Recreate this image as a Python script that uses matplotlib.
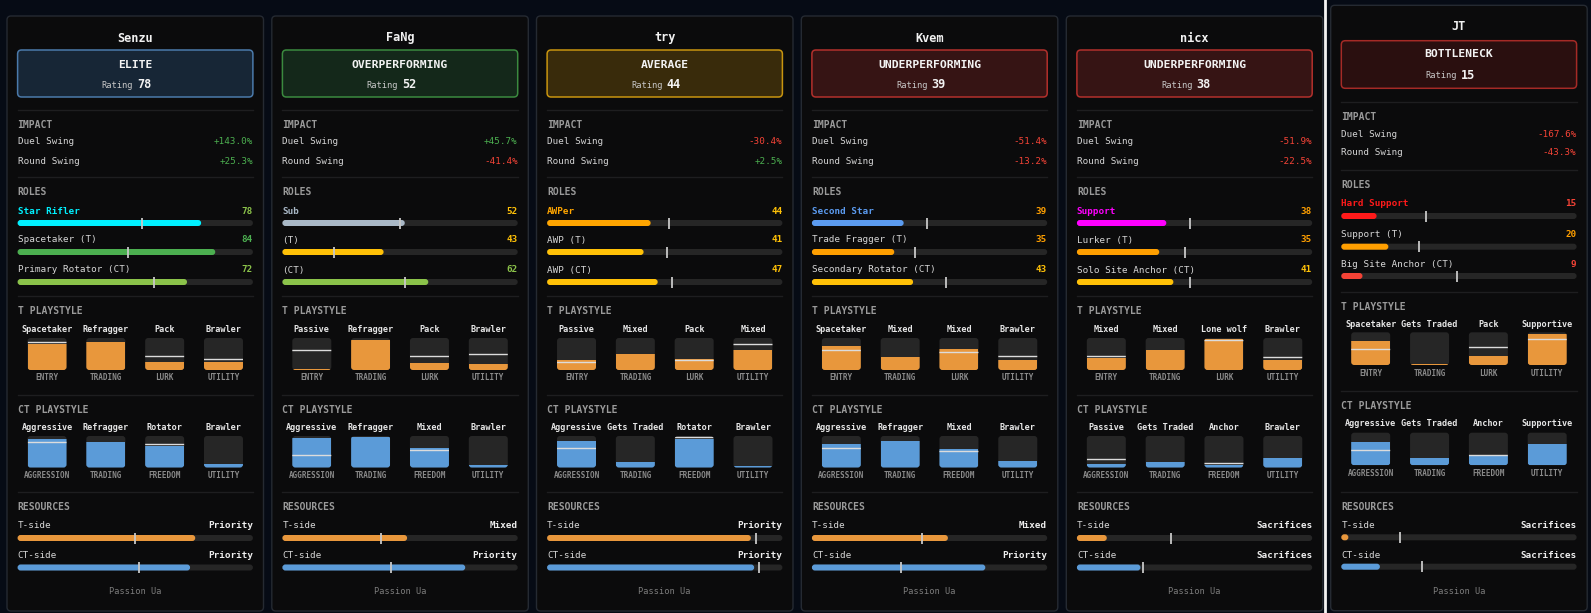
import matplotlib
matplotlib.use("Agg")
import matplotlib.pyplot as plt
from matplotlib.patches import FancyBboxPatch, Rectangle

plt.rcParams['font.family'] = ['DejaVu Sans Mono', 'DejaVu Sans']

# ---- data -------------------------------------------------------------
players = ["Senzu", "FaNg", "try", "Kvem", "nicx", "JT"]
tiers = ["ELITE", "OVERPERFORMING", "AVERAGE", "UNDERPERFORMING", "UNDERPERFORMING", "BOTTLENECK"]
ratings = [78, 52, 44, 39, 38, 15]
duel_swing = [143.0, 45.7, -30.4, -51.4, -51.9, -167.6]
round_swing = [25.3, -41.4, 2.5, -13.2, -22.5, -43.3]

role_names = [["Star Rifler", "Spacetaker (T)", "Primary Rotator (CT)"],
              ["Sub", "(T)", "(CT)"],
              ["AWPer", "AWP (T)", "AWP (CT)"],
              ["Second Star", "Trade Fragger (T)", "Secondary Rotator (CT)"],
              ["Support", "Lurker (T)", "Solo Site Anchor (CT)"],
              ["Hard Support", "Support (T)", "Big Site Anchor (CT)"]]
role_values = [[78, 84, 72], [52, 43, 62], [44, 41, 47], [39, 35, 43], [38, 35, 41], [15, 20, 9]]
role_marks = [[53, 47, 58], [50, 22, 52], [52, 51, 53], [49, 44, 57], [48, 46, 48], [36, 33, 49]]
main_role_colors = ["#00f0ff", "#a9b8c6", "#ffa500", "#5b9bf0", "#ff00ff", "#ff1a1a"]

t_sub = ["ENTRY", "TRADING", "LURK", "UTILITY"]
t_names = [["Spacetaker", "Refragger", "Pack", "Brawler"],
           ["Passive", "Refragger", "Pack", "Brawler"],
           ["Passive", "Mixed", "Pack", "Mixed"],
           ["Spacetaker", "Mixed", "Mixed", "Brawler"],
           ["Mixed", "Mixed", "Lone wolf", "Brawler"],
           ["Spacetaker", "Gets Traded", "Pack", "Supportive"]]
t_fill = [[82, 89, 25, 25], [3, 95, 23, 20], [31, 50, 34, 63],
          [75, 40, 65, 31], [37, 62, 98, 32], [73, 4, 26, 95]]
t_mark = [[86, None, 44, 33], [63, None, 44, 51], [26, None, 32, 82],
          [63, None, 55, 44], [45, None, 95, 41], [49, None, 56, 81]]

ct_sub = ["AGGRESSION", "TRADING", "FREEDOM", "UTILITY"]
ct_names = [["Aggressive", "Refragger", "Rotator", "Brawler"],
            ["Aggressive", "Refragger", "Mixed", "Brawler"],
            ["Aggressive", "Gets Traded", "Rotator", "Brawler"],
            ["Aggressive", "Refragger", "Mixed", "Brawler"],
            ["Passive", "Gets Traded", "Anchor", "Brawler"],
            ["Aggressive", "Gets Traded", "Anchor", "Supportive"]]
ct_fill = [[90, 81, 69, 10], [95, 98, 63, 7], [84, 16, 89, 4],
           [74, 84, 58, 20], [10, 17, 7, 29], [72, 21, 30, 65]]
ct_mark = [[80, None, 74, None], [39, None, 56, None], [63, None, 96, None],
           [63, None, 53, None], [26, None, 15, None], [47, None, 33, None]]

t_res_label = ["Priority", "Mixed", "Priority", "Mixed", "Sacrifices", "Sacrifices"]
t_res_fill = [75.5, 53, 86.6, 57.8, 12.7, 3]
t_res_mark = [50, 42, 88.7, 47, 40, 25]
ct_res_label = ["Priority", "Priority", "Priority", "Priority", "Sacrifices", "Sacrifices"]
ct_res_fill = [73.3, 77.7, 88, 73.7, 27, 16.4]
ct_res_mark = [51.6, 46.3, 90, 37.8, 28, 34.5]

footer = "Passion Ua"

# ---- styles -----------------------------------------------------------
BG = "#060b15"
PANEL = "#0b0b0c"
PANEL_EDGE = "#252a32"
SEP = "#1e1e20"
TRACK = "#262626"
ORANGE = "#e8973c"
BLUE = "#5b9bd8"
TXT = "#e6e6e6"
GRAY = "#9a9a9a"
tier_style = {
    "ELITE": ("#172636", "#4b7aab"),
    "OVERPERFORMING": ("#14281a", "#3b8a3f"),
    "AVERAGE": ("#392b0b", "#c9950f"),
    "UNDERPERFORMING": ("#361414", "#b3302c"),
    "BOTTLENECK": ("#2a0f0f", "#a52a26"),
}


def value_color(v):
    if v < 20:
        return "#f44336"
    if v < 40:
        return "#ff9f00"
    if v < 60:
        return "#ffc107"
    if v < 80:
        return "#8bc34a"
    return "#4caf50"


# vertical layout for the five left cards and for the JT card
lay_main = dict(top=16, bot=611, title=38, b0=50, b1=97, blab=65, brat=85, s1=110,
                imp=125, duel=142, rnd=161, s2=177, roles=192, rl=[211, 240, 270],
                rb=[223, 252, 282], s3=296, tps=311.5, th=330, tb0=338, tb1=370,
                tsub=378, s4=395, cps=410, ch=428, cb0=436, cb1=467.5, csub=475.5,
                s5=492, res=507.5, tl=526, tbar=538, cl=556, cbar=567.5, foot=591)
lay_jt = dict(top=5.3, bot=610.7, title=26.7, b0=40.7, b1=88.3, blab=54.3, brat=75.3, s1=101.7,
              imp=116.7, duel=134.3, rnd=152.7, s2=170, roles=185, rl=[204, 234.7, 264.3],
              rb=[216, 246.7, 276], s3=292, tps=306.7, th=324.3, tb0=332.3, tb1=365,
              tsub=373, s4=391, cps=406, ch=424, cb0=432.7, cb1=465.3, csub=473.3,
              s5=491.7, res=506.7, tl=525, tbar=537.3, cl=555.7, cbar=566.7, foot=591)
lefts = [7, 271.8, 536.5, 801.3, 1066.3, 1330.7]
card_w = 256.5
pad = 10.6

W, H = 1591, 613
fig = plt.figure(figsize=(W / 100, H / 100), dpi=100, facecolor=BG)
ax = fig.add_axes([0, 0, 1, 1])
ax.set_xlim(0, W)
ax.set_ylim(H, 0)
ax.axis("off")
ax.set_facecolor(BG)


def rbox(x, y, w, h, fc, ec="none", lw=0, r=3, z=2):
    if w <= 0:
        return None
    r = min(r, w / 2, h / 2)
    p = FancyBboxPatch((x, y), w, h, boxstyle=f"round,pad=0,rounding_size={r}",
                       fc=fc, ec=ec, lw=lw, zorder=z)
    ax.add_patch(p)
    return p


def hbar(x0, w, y, val, mark, color):
    rbox(x0, y - 3, w, 6, TRACK, r=3, z=3)
    rbox(x0, y - 3, w * val / 100, 6, color, r=3, z=4)
    mx = x0 + w * mark / 100
    ax.plot([mx, mx], [y - 5.5, y + 5.5], color="#c8c8c8", lw=1.3, zorder=5, solid_capstyle="butt")


def style_row(x0, w, L, hy, y0, y1, sy, names, subs, fills, marks, color):
    colw = w / 4
    bw = 39
    for k in range(4):
        cx = x0 + (k + 0.5) * colw
        ax.text(cx, hy, names[k], color=TXT, fontsize=6.1, fontweight="bold", ha="center", va="center", zorder=6)
        ax.text(cx, sy, subs[k], color="#8a8a8a", fontsize=5.5, fontweight="bold", ha="center", va="center", zorder=6)
        bg = rbox(cx - bw / 2, y0, bw, y1 - y0, TRACK, r=3, z=3)
        h = (y1 - y0) * fills[k] / 100
        fr = Rectangle((cx - bw / 2, y1 - h), bw, h, fc=color, ec="none", zorder=4)
        ax.add_patch(fr)
        fr.set_clip_path(bg)
        if marks[k] is not None:
            my = y1 - (y1 - y0) * marks[k] / 100
            ln, = ax.plot([cx - bw / 2, cx + bw / 2], [my, my], color="#dcdcdc", lw=1.0, zorder=5)
            ln.set_clip_path(bg)


for i, name in enumerate(players):
    L = lay_jt if name == "JT" else lay_main
    left = lefts[i]
    x0 = left + pad
    x1 = left + card_w - pad
    iw = x1 - x0
    cx = left + card_w / 2

    rbox(left, L["top"], card_w, L["bot"] - L["top"], PANEL, PANEL_EDGE, 1.0, r=4, z=1)
    ax.text(cx, L["title"], name, color="#f2f2f2", fontsize=8.6, fontweight="bold", ha="center", va="center", zorder=6)

    fc, ec = tier_style[tiers[i]]
    rbox(x0, L["b0"], iw, L["b1"] - L["b0"], fc, ec, 1.1, r=4, z=2)
    ax.text(cx, L["blab"], tiers[i], color="#f2f2f2", fontsize=8.2, fontweight="bold", ha="center", va="center", zorder=6)
    ax.text(cx - 2, L["brat"], "Rating", color="#c8c8c8", fontsize=6.3, ha="right", va="center", zorder=6)
    ax.text(cx + 2, L["brat"], str(ratings[i]), color="#f2f2f2", fontsize=8.6, fontweight="bold", ha="left", va="center", zorder=6)

    for s in ("s1", "s2", "s3", "s4", "s5"):
        ax.plot([x0, x1], [L[s], L[s]], color=SEP, lw=1, zorder=2)

    def head(y, txt):
        ax.text(x0, y, txt, color=GRAY, fontsize=7.0, fontweight="bold", ha="left", va="center", zorder=6)

    head(L["imp"], "IMPACT")
    for y, lab, v in ((L["duel"], "Duel Swing", duel_swing[i]), (L["rnd"], "Round Swing", round_swing[i])):
        ax.text(x0, y, lab, color="#d4d4d4", fontsize=6.7, ha="left", va="center", zorder=6)
        ax.text(x1, y, f"{v:+.1f}%", color="#4caf50" if v > 0 else "#f44336",
                fontsize=6.7, ha="right", va="center", zorder=6)

    head(L["roles"], "ROLES")
    for r in range(3):
        val = role_values[i][r]
        lab_col = main_role_colors[i] if r == 0 else "#d8d8d8"
        bar_col = main_role_colors[i] if r == 0 else value_color(val)
        ax.text(x0, L["rl"][r], role_names[i][r], color=lab_col, fontsize=6.7,
                fontweight="bold" if r == 0 else "normal", ha="left", va="center", zorder=6)
        ax.text(x1, L["rl"][r], str(val), color=value_color(val), fontsize=6.7, fontweight="bold",
                ha="right", va="center", zorder=6)
        hbar(x0, iw, L["rb"][r], val, role_marks[i][r], bar_col)

    head(L["tps"], "T PLAYSTYLE")
    style_row(x0, iw, L, L["th"], L["tb0"], L["tb1"], L["tsub"], t_names[i], t_sub, t_fill[i], t_mark[i], ORANGE)
    head(L["cps"], "CT PLAYSTYLE")
    style_row(x0, iw, L, L["ch"], L["cb0"], L["cb1"], L["csub"], ct_names[i], ct_sub, ct_fill[i], ct_mark[i], BLUE)

    head(L["res"], "RESOURCES")
    ax.text(x0, L["tl"], "T-side", color="#d8d8d8", fontsize=6.7, ha="left", va="center", zorder=6)
    ax.text(x1, L["tl"], t_res_label[i], color="#eeeeee", fontsize=6.7, fontweight="bold", ha="right", va="center", zorder=6)
    hbar(x0, iw, L["tbar"], t_res_fill[i], t_res_mark[i], ORANGE)
    ax.text(x0, L["cl"], "CT-side", color="#d8d8d8", fontsize=6.7, ha="left", va="center", zorder=6)
    ax.text(x1, L["cl"], ct_res_label[i], color="#eeeeee", fontsize=6.7, fontweight="bold", ha="right", va="center", zorder=6)
    hbar(x0, iw, L["cbar"], ct_res_fill[i], ct_res_mark[i], BLUE)

    ax.text(cx, L["foot"], footer, color="#7c7c7c", fontsize=6.2, ha="center", va="center", zorder=6)

# white divider between the two screenshots
ax.plot([1325, 1325], [0, H], color="#f4f4f4", lw=2, zorder=7)

fig.savefig("out.png", dpi=100, facecolor=BG)
